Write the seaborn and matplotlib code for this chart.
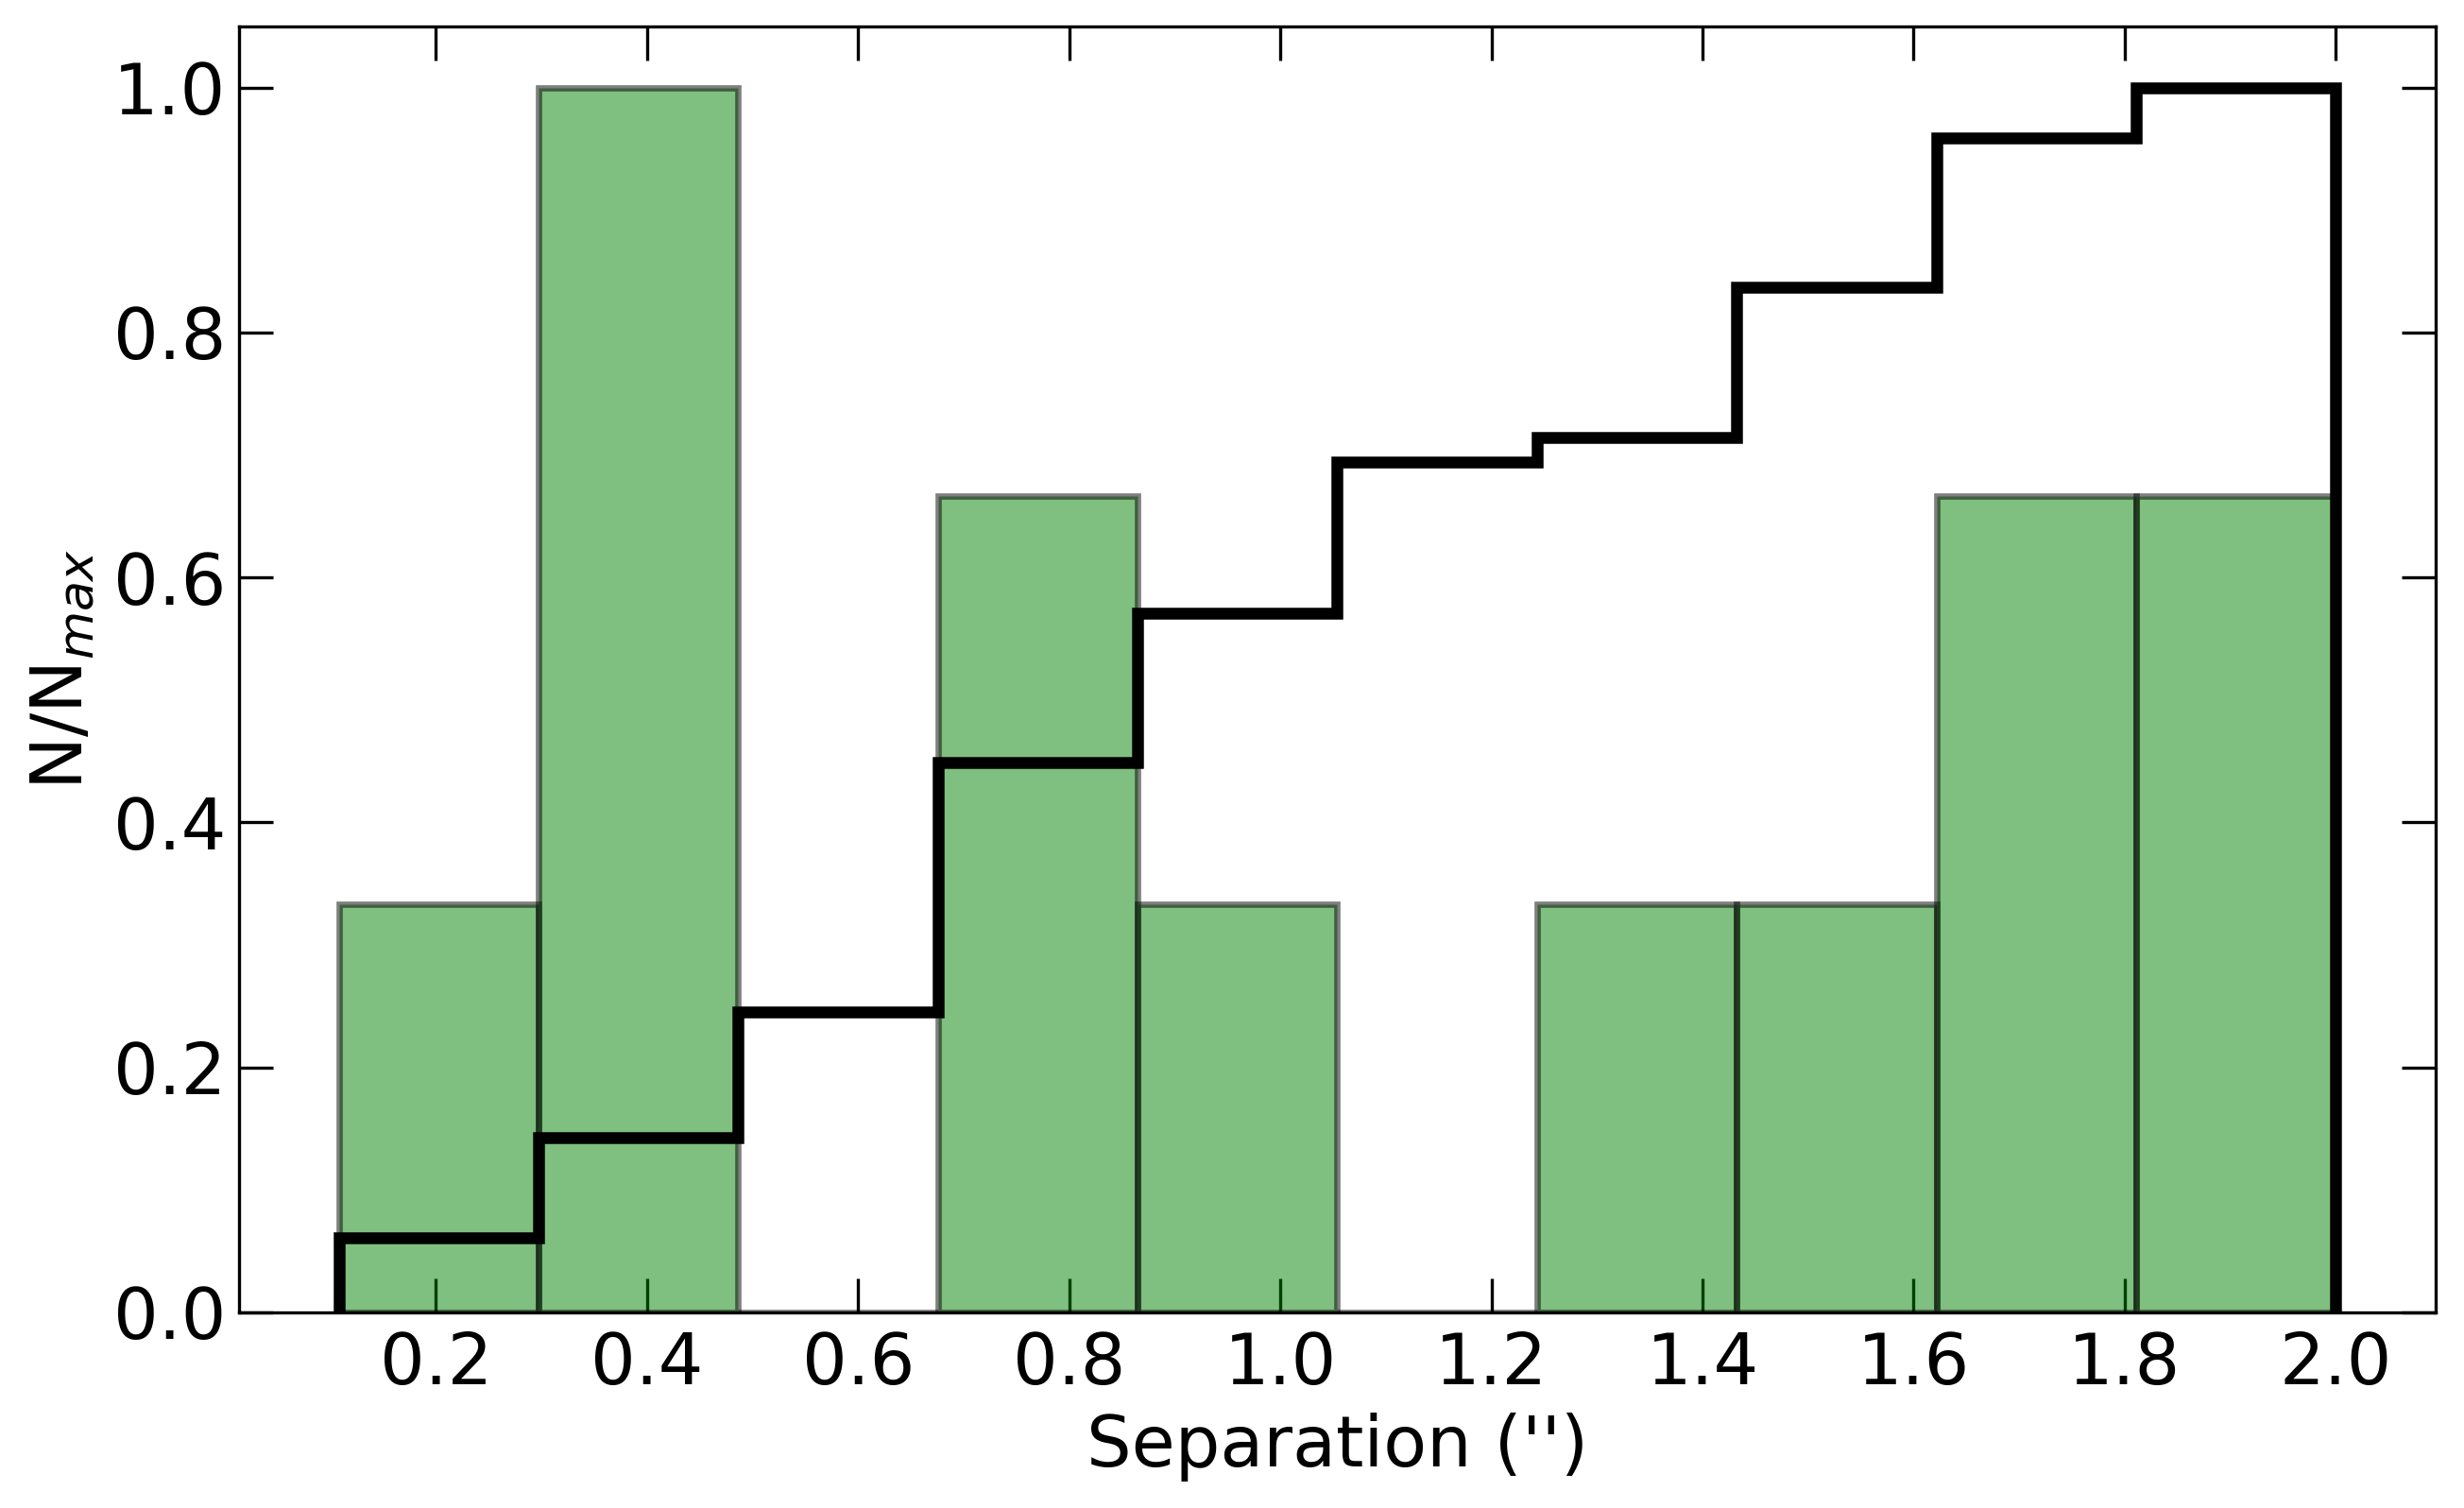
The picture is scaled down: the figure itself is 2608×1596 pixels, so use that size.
import matplotlib
matplotlib.use("Agg")
import matplotlib.pyplot as plt
import seaborn as sns
import numpy as np

# ---- data ----
bin_edges = [0.108, 0.297, 0.486, 0.676, 0.865, 1.054, 1.243, 1.432, 1.622, 1.811, 2.0]
hist_norm = [1/3, 1.0, 0.0, 2/3, 1/3, 0.0, 1/3, 1/3, 2/3, 2/3]
cum_norm = [0.061, 0.143, 0.245, 0.449, 0.571, 0.694, 0.714, 0.837, 0.959, 1.0]
xticks = [0.2, 0.4, 0.6, 0.8, 1.0, 1.2, 1.4, 1.6, 1.8, 2.0]
yticks = [0.0, 0.2, 0.4, 0.6, 0.8, 1.0]

sns.set_style("ticks")
plt.rcParams['font.family'] = ['DejaVu Sans']
plt.rcParams['text.color'] = 'black'
plt.rcParams['axes.labelcolor'] = 'black'
plt.rcParams['xtick.color'] = 'black'
plt.rcParams['ytick.color'] = 'black'

centers = [(a + b) / 2 for a, b in zip(bin_edges[:-1], bin_edges[1:])]

fig = plt.figure(figsize=(13.04, 7.98), dpi=200)
ax = fig.add_axes([0.097, 0.1297, 0.8915, 0.8528])

sns.histplot(x=centers, weights=hist_norm, bins=bin_edges, color='green',
             alpha=0.5, edgecolor='black', linewidth=2.4, ax=ax)
for p in ax.patches:
    p.set_facecolor((0, 0.502, 0, 0.5))
    p.set_edgecolor((0, 0, 0, 0.5))
    p.set_alpha(None)

ax.hist(centers, bins=bin_edges, weights=cum_norm, histtype='step',
        color='black', linewidth=4.5)

ax.set_xticks(xticks)
ax.set_yticks(yticks)
ax.set_xticklabels([f"{t:.1f}" for t in xticks])
ax.set_yticklabels([f"{t:.1f}" for t in yticks])
ax.tick_params(direction='in', top=True, right=True, length=13, width=1.2,
               labelsize=27, pad=7, colors='black')
ax.tick_params(axis='y', pad=5)
for s in ax.spines.values():
    s.set_linewidth(1.2)
    s.set_color('black')
ax.set_xlabel("Separation ('')", fontsize=27, labelpad=5)
ax.set_ylabel("N/N$_{max}$", fontsize=27, labelpad=6)

fig.savefig("out.png", dpi=200)
